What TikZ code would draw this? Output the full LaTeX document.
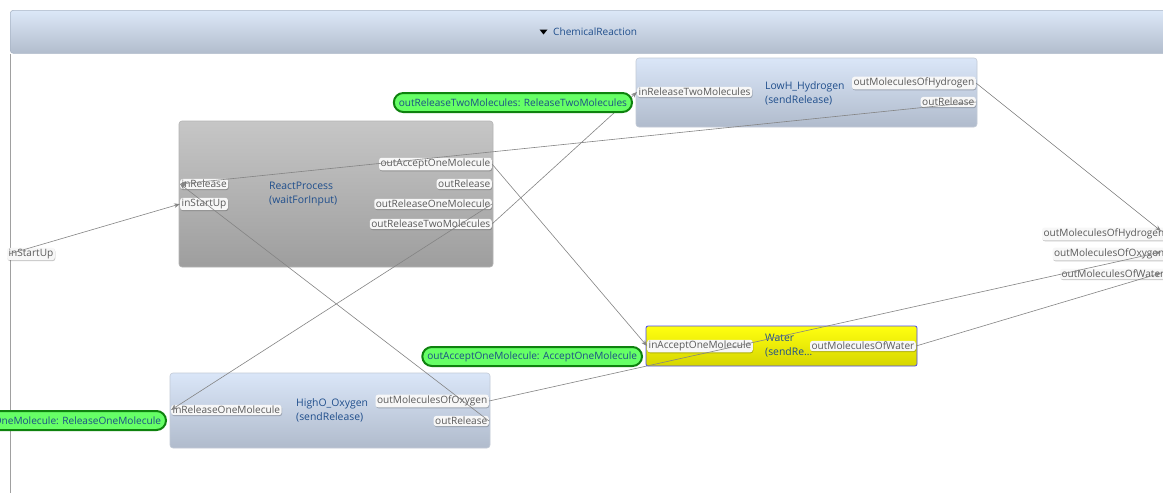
\documentclass[tikz,border=0pt]{standalone}
\usepackage{fontspec}
\setmainfont{Open Sans}
\usetikzlibrary{arrows.meta,shadows}

\definecolor{wirecol}{HTML}{848484}
\definecolor{porttext}{HTML}{5A5A5A}
\definecolor{titleblue}{HTML}{1F4E8C}
\definecolor{msgfill}{HTML}{66FF66}
\definecolor{msgdraw}{HTML}{0E820E}
\definecolor{msgtext}{HTML}{1B4F86}
\definecolor{blueTop}{HTML}{DAE6F8}
\definecolor{blueBot}{HTML}{B0BBCC}
\definecolor{blueEdge}{HTML}{C2CAD6}
\definecolor{grayTop}{HTML}{C6C6C6}
\definecolor{grayBot}{HTML}{9E9E9E}
\definecolor{grayEdge}{HTML}{B4B4B4}
\definecolor{yellowTop}{HTML}{FFFF10}
\definecolor{yellowBot}{HTML}{D6D600}
\definecolor{yellowEdge}{HTML}{4A4AF0}
\definecolor{hdrTop}{HTML}{DCE8F8}
\definecolor{hdrBot}{HTML}{B2BDCD}
\definecolor{hdrEdge}{HTML}{A9B5C6}
\definecolor{frameline}{HTML}{A0A0A0}

\begin{document}
\begin{tikzpicture}[x=1pt,y=-1pt,
  font=\fontsize{10.1}{11.5}\selectfont,
  hdrbar/.style={draw=hdrEdge, top color=hdrTop, bottom color=hdrBot,
    rounded corners=3pt, line width=0.6pt, inner sep=0pt},
  blockblue/.style={draw=blueEdge, top color=blueTop, bottom color=blueBot,
    rounded corners=3pt, line width=0.6pt, inner sep=0pt},
  blockgray/.style={draw=grayEdge, top color=grayTop, bottom color=grayBot,
    rounded corners=3pt, line width=0.6pt, inner sep=0pt},
  blockyellow/.style={draw=yellowEdge, top color=yellowTop, bottom color=yellowBot,
    rounded corners=2pt, line width=0.8pt, inner sep=0pt},
  blocktitle/.style={text=titleblue, align=left, anchor=west, inner sep=0pt,
    font=\fontsize{10.4}{14}\selectfont},
  port/.style={fill=white!97!black, text=porttext, rounded corners=2.5pt,
    inner xsep=1.5pt, inner ysep=1.2pt,
    drop shadow={shadow xshift=0.5pt, shadow yshift=-1pt, opacity=0.22, fill=black}},
  inport/.style={port, anchor=west},
  outport/.style={port, anchor=east},
  msg/.style={draw=msgdraw, fill=msgfill, line width=2pt, rounded corners=9.5pt,
    minimum height=19pt, inner xsep=5pt, inner ysep=0pt, text=msgtext,
    anchor=north east},
  wire/.style={draw=wirecol, line width=0.6pt,
    -{Stealth[length=6pt,width=4.5pt]}}
]
\useasboundingbox (0,0) rectangle (1163,493);
\clip (0,0) rectangle (1163,493);
\fill[white] (0,0) rectangle (1163,493);

% composite frame with its header bar
\node[hdrbar, minimum width=1170pt, minimum height=43pt, anchor=north west] (hdr) at (10,10) {};
\fill[black] (539.5,29.5) -- (547.5,29.5) -- (543.5,34.5) -- cycle;
\node[text=titleblue, anchor=west, inner sep=0pt] (hdrtitle) at (553,32) {ChemicalReaction};
\draw[frameline, line width=0.8pt] (hdr.south west) -- (10,493);

% blocks
\node[blockblue, minimum width=341pt, minimum height=69pt] (lowh) at (806.5,92.5) {};
\node[blockgray, minimum width=314pt, minimum height=146pt] (react) at (336,194) {};
\node[blockyellow, minimum width=271pt, minimum height=40pt] (water) at (781.5,346) {};
\node[blockblue, minimum width=320pt, minimum height=75pt] (higho) at (330,410.5) {};

% block titles
\node[blocktitle] (lowh-t) at (765,93) {LowH\_Hydrogen\\(sendRelease)};
\node[blocktitle] (react-t) at (269,194) {ReactProcess\\(waitForInput)};
\node[blocktitle] (water-t) at (765,346) {Water\\(sendRe\ldots};
\node[blocktitle] (higho-t) at (296,410.5) {HighO\_Oxygen\\(sendRelease)};

% ports of LowH_Hydrogen
\node[inport] (lowh-in) at (637,92) {inReleaseTwoMolecules};
\node[outport] (lowh-outh) at (976,83) {outMoleculesOfHydrogen};
\node[outport] (lowh-outr) at (976,102) {outRelease};

% ports of ReactProcess
\node[inport] (react-inr) at (180,184) {inRelease};
\node[inport] (react-ins) at (180,204) {inStartUp};
\node[outport] (react-oa) at (492,164) {outAcceptOneMolecule};
\node[outport] (react-or) at (492,184) {outRelease};
\node[outport] (react-o1) at (492,204) {outReleaseOneMolecule};
\node[outport] (react-o2) at (492,224) {outReleaseTwoMolecules};

% ports of Water
\node[inport] (water-in) at (647,346) {inAcceptOneMolecule};
\node[outport] (water-out) at (916,346) {outMoleculesOfWater};

% ports of HighO_Oxygen
\node[inport] (higho-in) at (171,410) {inReleaseOneMolecule};
\node[outport] (higho-oo) at (489,401) {outMoleculesOfOxygen};
\node[outport] (higho-or) at (489,421) {outRelease};

% ports on the frame boundary
\node[outport] (fr-start) at (55,254) {inStartUp};
\node[outport] (fr-h) at (1166,234) {outMoleculesOfHydrogen};
\node[outport] (fr-o) at (1166,254) {outMoleculesOfOxygen};
\node[outport] (fr-w) at (1166,274) {outMoleculesOfWater};
\coordinate (fs) at (9,254);
\coordinate (fh) at (1161,231);
\coordinate (fo) at (1161,252);
\coordinate (fw) at (1161,273);

% connectors
\draw[wire] (lowh-outr.east) -- (react-inr.west);
\draw[wire] (higho-or.east) -- (react-inr.west);
\draw[wire] (fs) -- (react-ins.west);
\draw[wire] (react-oa.east) -- (water-in.west);
\draw[wire] (react-o1.east) -- (higho-in.west);
\draw[wire] (react-o2.east) -- (lowh-in.west);
\draw[wire] (lowh-outh.east) -- (fh);
\draw[wire] (higho-oo.east) -- (fo);
\draw[wire] (water-out.east) -- (fw);

% message labels beside their receiving ports
\node[msg] (m-two) at ([xshift=-4pt]lowh-in.west) {outReleaseTwoMolecules: ReleaseTwoMolecules};
\node[msg] (m-acc) at ([xshift=-4pt]water-in.west) {outAcceptOneMolecule: AcceptOneMolecule};
\node[msg] (m-one) at ([xshift=-4pt]higho-in.west) {outReleaseOneMolecule: ReleaseOneMolecule};
\end{tikzpicture}
\end{document}
